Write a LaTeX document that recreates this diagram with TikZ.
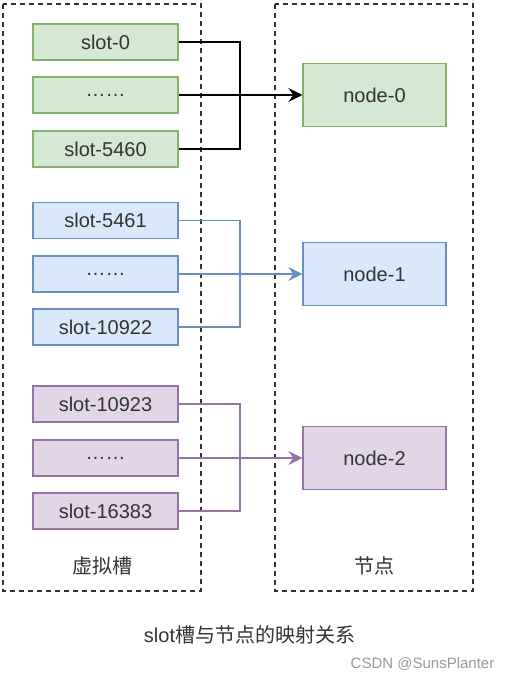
\documentclass[tikz,border=0pt]{standalone}
\usepackage{fontspec}
\setmainfont{Liberation Sans}
\newfontfamily\cjk{Noto Sans CJK SC}
\usepackage{tikz}
\usetikzlibrary{arrows.meta}

\definecolor{greenfill}{HTML}{D5E8D4}
\definecolor{greenline}{HTML}{82B366}
\definecolor{bluefill}{HTML}{DAE8FC}
\definecolor{blueline}{HTML}{6C8EBF}
\definecolor{purplefill}{HTML}{E1D5E7}
\definecolor{purpleline}{HTML}{9673A6}
\definecolor{textgray}{HTML}{333333}
\definecolor{markgray}{HTML}{9A9A9A}

\begin{document}
\begin{tikzpicture}[x=1pt, y=-1pt,
		slotbox/.style={draw, line width=1.3pt, minimum width=145pt, minimum height=36pt, inner sep=0pt, text=textgray, font=\fontsize{20}{24}\selectfont},
		nodebox/.style={slotbox, minimum width=143pt, minimum height=63pt},
		frame/.style={draw=textgray, line width=1.9pt, dash pattern=on 5pt off 4pt},
		link/.style={line width=1.4pt},
		tip/.style={-{Stealth[length=14pt, width=14pt, inset=5pt]}},
		label/.style={text=textgray, font=\fontsize{20}{24}\selectfont\cjk}]
				\useasboundingbox (0,0) rectangle (514,680);
				
				\draw[frame] (3,4) rectangle (201,591);
				\draw[frame] (275,4) rectangle (473,591);
				
				% green group
				\node[slotbox, fill=greenfill, draw=greenline] (s0) at (105.5, 42) {slot-0};
				\node[slotbox, fill=greenfill, draw=greenline] (s1) at (105.5, 95) {……};
				\node[slotbox, fill=greenfill, draw=greenline] (s2) at (105.5, 149) {slot-5460};
				\node[nodebox, fill=greenfill, draw=greenline] (n0) at (374.5, 95) {node-0};
				\coordinate (j0) at (240, 95);
				
				\draw[link] (s0.east) -| (j0) |- (s2.east);
				\draw[link, tip] (s1.east) -- (n0.west);
				
				% blue group
				\node[slotbox, fill=bluefill, draw=blueline] (s3) at (105.5, 220.5) {slot-5461};
				\node[slotbox, fill=bluefill, draw=blueline] (s4) at (105.5, 274) {……};
				\node[slotbox, fill=bluefill, draw=blueline] (s5) at (105.5, 327) {slot-10922};
				\node[nodebox, fill=bluefill, draw=blueline] (n1) at (374.5, 274) {node-1};
				\coordinate (j1) at (240, 274);
				
				\draw[link, blueline] (s3.east) -| (j1) |- (s5.east);
				\draw[link, blueline, tip] (s4.east) -- (n1.west);
				
				% purple group
				\node[slotbox, fill=purplefill, draw=purpleline] (s6) at (105.5, 404) {slot-10923};
				\node[slotbox, fill=purplefill, draw=purpleline] (s7) at (105.5, 458) {……};
				\node[slotbox, fill=purplefill, draw=purpleline] (s8) at (105.5, 511) {slot-16383};
				\node[nodebox, fill=purplefill, draw=purpleline] (n2) at (374.5, 458) {node-2};
				\coordinate (j2) at (240, 458);
				
				\draw[link, purpleline] (s6.east) -| (j2) |- (s8.east);
				\draw[link, purpleline, tip] (s7.east) -- (n2.west);
				
				\node[label] (lslots) at (102.5, 566) {虚拟槽};
				\node[label] (lnodes) at (374, 566) {节点};
				\node[text=textgray, font=\fontsize{20}{24}\selectfont] (caption) at (249.5, 635) {slot{\cjk 槽与节点的映射关系}};
				\node[text=markgray, font=\fontsize{15}{18}\selectfont] (mark) at (422.5, 664) {CSDN @SunsPlanter};
			\end{tikzpicture}
\end{document}
